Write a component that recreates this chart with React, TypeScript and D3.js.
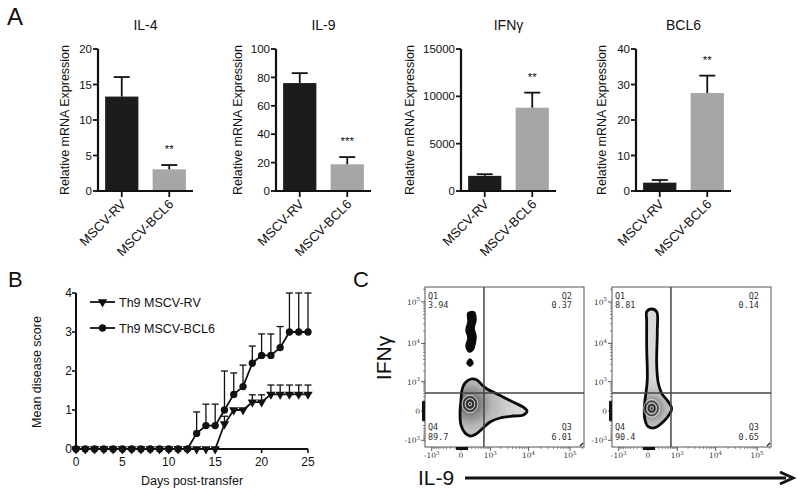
import React from "react";
import * as d3 from "d3";

// ---------------- Panel A data ----------------
const groups = ["MSCV-RV", "MSCV-BCL6"];
const genes = ["IL-4", "IL-9", "IFNγ", "BCL6"];
const il4Mean = [13.3, 3.05];
const il4Err = [16.05, 3.66];
const il9Mean = [76, 18.8];
const il9Err = [83, 23.9];
const ifngMean = [1600, 8800];
const ifngErr = [1775, 10390];
const bcl6Mean = [2.35, 27.6];
const bcl6Err = [3.1, 32.5];
const il4Ticks = [0, 5, 10, 15, 20];
const il9Ticks = [0, 20, 40, 60, 80, 100];
const ifngTicks = [0, 5000, 10000, 15000];
const bcl6Ticks = [0, 10, 20, 30, 40];
const stars = ["**", "***", "**", "**"];

// ---------------- Panel B data ----------------
const days = [0, 1, 2, 3, 4, 5, 6, 7, 8, 9, 10, 11, 12, 13, 14, 15, 16, 17, 18, 19, 20, 21, 22, 23, 24, 25];
const rvMean = [0, 0, 0, 0, 0, 0, 0, 0, 0, 0, 0, 0, 0, 0, 0, 0, 0.64, 1.0, 1.0, 1.2, 1.2, 1.4, 1.4, 1.4, 1.4, 1.4];
const rvUpper = [0, 0, 0, 0, 0, 0, 0, 0, 0, 0, 0, 0, 0, 0, 0, 0, 0.84, 1.0, 1.0, 1.39, 1.39, 1.64, 1.64, 1.64, 1.64, 1.64];
const bclMean = [0, 0, 0, 0, 0, 0, 0, 0, 0, 0, 0, 0, 0, 0.4, 0.6, 0.6, 1.0, 1.4, 1.6, 2.2, 2.4, 2.4, 2.6, 3.0, 3.0, 3.0];
const bclUpper = [0, 0, 0, 0, 0, 0, 0, 0, 0, 0, 0, 0, 0, 0.95, 1.15, 1.15, 2.0, 1.95, 2.15, 2.64, 2.95, 2.95, 3.14, 4.0, 4.0, 4.0];
const seriesNames = ["Th9 MSCV-RV", "Th9 MSCV-BCL6"];
const bYTicks = [0, 1, 2, 3, 4];
const bXTicks = [0, 5, 10, 15, 20, 25];

// ---------------- Panel C data ----------------
const flowMajor = [-1000, 0, 1000, 10000, 100000];
const flowMajorLabels = [["-10", "3"], ["0", ""], ["10", "3"], ["10", "4"], ["10", "5"]];
const quadNames = ["Q1", "Q2", "Q3", "Q4"];
const leftQuadValues = ["3.94", "0.37", "6.01", "89.7"];
const rightQuadValues = ["8.81", "0.14", "0.65", "90.4"];
const gateIL9 = 632;
const gateIFNg = 422;
// contour outlines (IL-9, IFNγ raw values)
const leftMainX = [62, 183, 352, 543, 793, 1370, 2555, 4610, 7290, 9150, 7470, 4100, 1880, 980, 543, 320, 160, 62, 0, -14, 0, 14];
const leftMainY = [914, 1200, 1120, 793, 587, 422, 261, 138, 62, 0, -62, -79, -117, -207, -422, -635, -738, -587, -290, -29, 207, 543];
const leftStreakX = [117, 261, 320, 261, 320, 290, 233, 138, 79, 117, 79, 117];
const leftStreakY = [54000, 57300, 36900, 23700, 15150, 9670, 6890, 6150, 8650, 13550, 21200, 33200];
const leftDotX = [98, 160, 233, 160];
const leftDotY = [3200, 4100, 3200, 2710];
const leftCore = [160, 117];
const rightMainX = [-19, 56, 153, 167, 153, 190, 281, 512, 669, 587, 330, 117, 4, -45, -56, -34, -10, -19, -19];
const rightMainY = [58300, 67600, 58300, 21200, 2940, 896, 411, 167, 40, -34, -200, -376, -343, -160, 67, 352, 1123, 8300, 36900];
const rightCore = [56, 40];

const FONT = "'Liberation Sans', Arial, Helvetica, sans-serif";

// ---------------- Panel A ----------------
const A_Y0 = 191;
const A_YTOP = 49;
const A_W = 95;
const barColors = ["#1c1c1c", "#a6a6a9"];

function BarPanel({ ax, title, means, errs, ticks, star, labOff }) {
  const y = d3.scaleLinear().domain([0, ticks[ticks.length - 1]]).range([A_Y0, A_YTOP]);
  const x = d3.scaleBand().domain(groups).range([ax, ax + A_W]).paddingInner(0.3).paddingOuter(0.15);
  const bw = x.bandwidth();
  return (
    <g>
      <text x={ax + 47.5} y={30} fontSize={14} textAnchor="middle">{title}</text>
      <text transform={`translate(${ax - labOff},120) rotate(-90)`} fontSize={12.5} textAnchor="middle">
        Relative mRNA Expression
      </text>
      {groups.map((g, i) => {
        const cx = x(g) + bw / 2;
        return (
          <g key={g}>
            <rect x={x(g)} y={y(means[i])} width={bw} height={y(0) - y(means[i])} fill={barColors[i]} />
            <line x1={cx} x2={cx} y1={y(means[i])} y2={y(errs[i])} stroke="#111" strokeWidth={1.8} />
            <line x1={cx - 8} x2={cx + 8} y1={y(errs[i])} y2={y(errs[i])} stroke="#111" strokeWidth={1.8} />
            <line x1={cx} x2={cx} y1={A_Y0} y2={A_Y0 + 6} stroke="#111" strokeWidth={1.8} />
            <text transform={`translate(${cx + 5},${A_Y0 + 14}) rotate(-45)`} fontSize={13} textAnchor="end">
              {g}
            </text>
          </g>
        );
      })}
      <text x={x(groups[1]) + bw / 2} y={y(errs[1]) - 12} fontSize={11.5} textAnchor="middle">{star}</text>
      {ticks.map((t) => (
        <g key={t}>
          <line x1={ax - 5} x2={ax} y1={y(t)} y2={y(t)} stroke="#111" strokeWidth={1.8} />
          <text x={ax - 6} y={y(t)} dy="0.36em" fontSize={11.5} textAnchor="end">{t}</text>
        </g>
      ))}
      <line x1={ax} x2={ax} y1={A_Y0 + 1} y2={A_YTOP} stroke="#111" strokeWidth={2.2} />
      <line x1={ax - 1} x2={ax + A_W} y1={A_Y0} y2={A_Y0} stroke="#111" strokeWidth={2.2} />
    </g>
  );
}

// ---------------- Panel B ----------------
function DiseasePanel() {
  const x = d3.scaleLinear().domain([0, 25]).range([76, 308]);
  const y = d3.scaleLinear().domain([0, 4]).range([449, 293]);
  const line = d3.line<number>().x((_, i) => x(days[i])).y((d) => y(d));
  const tri = d3.symbol(d3.symbolTriangle, 38)();
  const circ = d3.symbol(d3.symbolCircle, 42)();
  const errs = (mean, upper, key) =>
    days.map((d, i) =>
      upper[i] > mean[i] + 0.001 ? (
        <g key={key + d}>
          <line x1={x(d)} x2={x(d)} y1={y(mean[i])} y2={y(upper[i])} stroke="#111" strokeWidth={1.3} />
          <line x1={x(d) - 3.5} x2={x(d) + 3.5} y1={y(upper[i])} y2={y(upper[i])} stroke="#111" strokeWidth={1.3} />
        </g>
      ) : null
    );
  return (
    <g>
      <text transform="translate(41,372) rotate(-90)" fontSize={12.5} textAnchor="middle">Mean disease score</text>
      <text x={192} y={485} fontSize={12.5} textAnchor="middle">Days post-transfer</text>
      {bYTicks.map((t) => (
        <g key={"y" + t}>
          <line x1={72} x2={76} y1={y(t)} y2={y(t)} stroke="#111" strokeWidth={1.6} />
          <text x={72} y={y(t)} dy="0.36em" fontSize={12} textAnchor="end">{t}</text>
        </g>
      ))}
      {bXTicks.map((t) => (
        <g key={"x" + t}>
          <line x1={x(t)} x2={x(t)} y1={449} y2={453} stroke="#111" strokeWidth={1.6} />
          <text x={x(t)} y={466} fontSize={12} textAnchor="middle">{t}</text>
        </g>
      ))}
      <line x1={76} x2={76} y1={450} y2={293} stroke="#111" strokeWidth={2} />
      <line x1={75} x2={308} y1={449} y2={449} stroke="#111" strokeWidth={2} />
      {errs(bclMean, bclUpper, "b")}
      {errs(rvMean, rvUpper, "r")}
      <path d={line(bclMean)} fill="none" stroke="#111" strokeWidth={1.8} />
      {days.map((d, i) => (
        <path key={"c" + d} d={circ} transform={`translate(${x(d)},${y(bclMean[i])})`} fill="#111" />
      ))}
      <path d={line(rvMean)} fill="none" stroke="#111" strokeWidth={1.8} />
      {days.map((d, i) => (
        <path key={"t" + d} d={tri} transform={`translate(${x(d)},${y(rvMean[i])}) rotate(180)`} fill="#111" />
      ))}
      {/* legend */}
      <line x1={90} x2={115} y1={302} y2={302} stroke="#111" strokeWidth={1.8} />
      <path d={tri} transform="translate(102.5,302) rotate(180)" fill="#111" />
      <text x={119} y={302} dy="0.36em" fontSize={12.5}>{seriesNames[0]}</text>
      <line x1={90} x2={115} y1={328} y2={328} stroke="#111" strokeWidth={1.8} />
      <path d={circ} transform="translate(102.5,328)" fill="#111" />
      <text x={119} y={328} dy="0.36em" fontSize={12.5}>{seriesNames[1]}</text>
    </g>
  );
}

// ---------------- Panel C ----------------
const F_TOP = 287;
const F_BOT = 447;
const F_W = 159;
const minorTicks = [
  ...d3.range(-900, 0, 100),
  ...d3.range(100, 1000, 100),
  ...d3.range(2000, 10000, 1000),
  ...d3.range(20000, 100000, 10000),
  200000,
];

function FlowPlot({ x0, id, mainX, mainY, core, quadValues, extra }) {
  const fx = d3.scaleSymlog().constant(250).domain([-1557, 215000]).range([x0, x0 + F_W]);
  const fy = d3.scaleSymlog().constant(250).domain([-1557, 227000]).range([F_BOT, F_TOP]);
  const closed = d3.line<number[]>().x((p) => fx(p[0])).y((p) => fy(p[1])).curve(d3.curveCatmullRomClosed.alpha(0.5));
  const pts = (xs, ys) => xs.map((v, i) => [v, ys[i]]);
  const cx = fx(core[0]);
  const cy = fy(core[1]);
  const gx = fx(gateIL9);
  const gy = fy(gateIFNg);
  const rings = [1, 2, 3, 4, 5];
  return (
    <g>
      <defs>
        <radialGradient id={id} gradientUnits="userSpaceOnUse" cx={cx} cy={cy} r={id === "gL" ? 48 : 30}>
          <stop offset="0" stopColor="#2a2a2a" />
          <stop offset="0.1" stopColor="#4f4f4f" />
          <stop offset="0.25" stopColor="#8c8c8c" />
          <stop offset="0.45" stopColor="#b5b5b5" />
          <stop offset="0.75" stopColor="#cdcdcd" />
          <stop offset="1" stopColor="#d9d9d9" />
        </radialGradient>
      </defs>
      <rect x={x0} y={F_TOP} width={F_W} height={F_BOT - F_TOP} fill="#fff" stroke="#555" strokeWidth={1} />
      {/* contours */}
      <path d={closed(pts(mainX, mainY))} fill={`url(#${id})`} stroke="#0a0a0a" strokeWidth={2.8} strokeLinejoin="round" />
      {extra &&
        extra.map((e, k) => (
          <path key={k} d={closed(pts(e[0], e[1]))} fill="#0a0a0a" stroke="#0a0a0a" strokeWidth={1.5} />
        ))}
      {rings.map((r) => (
        <ellipse key={r} cx={cx} cy={cy} rx={r * 1.6} ry={r * 1.8} fill="none" stroke={r % 2 ? "#e6e6e6" : "#1a1a1a"} strokeWidth={0.8} />
      ))}
      {/* quadrant gate */}
      <line x1={gx} x2={gx} y1={F_TOP} y2={F_BOT} stroke="#444" strokeWidth={1.5} />
      <line x1={x0} x2={x0 + F_W} y1={gy} y2={gy} stroke="#444" strokeWidth={1.5} />
      {/* axis ticks */}
      {minorTicks.map((t) => (
        <g key={"m" + t}>
          <line x1={fx(t)} x2={fx(t)} y1={F_BOT} y2={F_BOT + 2} stroke="#555" strokeWidth={0.7} />
          <line x1={x0} x2={x0 - 2} y1={fy(t)} y2={fy(t)} stroke="#555" strokeWidth={0.7} />
        </g>
      ))}
      {flowMajor.map((t, i) => (
        <g key={"M" + t} fontFamily="'DejaVu Serif', serif" fill="#333">
          <line x1={fx(t)} x2={fx(t)} y1={F_BOT} y2={F_BOT + 4} stroke="#444" strokeWidth={0.9} />
          <line x1={x0} x2={x0 - 4} y1={fy(t)} y2={fy(t)} stroke="#444" strokeWidth={0.9} />
          <text x={fx(t)} y={458} fontSize={7.5} textAnchor="middle">
            <tspan>{flowMajorLabels[i][0]}</tspan>
            <tspan dy={-3.5} fontSize={5.5}>{flowMajorLabels[i][1]}</tspan>
          </text>
          <text x={x0 - 5} y={fy(t) + 3} fontSize={7.5} textAnchor="end">
            <tspan>{flowMajorLabels[i][0]}</tspan>
            <tspan dy={-3.5} fontSize={5.5}>{flowMajorLabels[i][1]}</tspan>
          </text>
        </g>
      ))}
      {/* events piled on axes */}
      <rect x={x0 - 3} y={fy(180)} width={3} height={fy(-180) - fy(180)} fill="#111" />
      <rect x={fx(-80)} y={F_BOT} width={fx(120) - fx(-80)} height={3} fill="#111" />
      <path d={`M${x0 + F_W - 4},${F_BOT - 1}L${x0 + F_W - 1},${F_BOT - 4}`} stroke="#222" strokeWidth={1.2} />
      {/* quadrant labels */}
      <g fontFamily="'DejaVu Sans Mono', 'Liberation Mono', monospace" fontSize={8.5} fill="#333">
        <text x={x0 + 3} y={299}>{quadNames[0]}</text>
        <text x={x0 + 3} y={308}>{quadValues[0]}</text>
        <text x={x0 + F_W - 12} y={299} textAnchor="end">{quadNames[1]}</text>
        <text x={x0 + F_W - 12} y={308} textAnchor="end">{quadValues[1]}</text>
        <text x={x0 + F_W - 12} y={430} textAnchor="end">{quadNames[2]}</text>
        <text x={x0 + F_W - 12} y={440} textAnchor="end">{quadValues[2]}</text>
        <text x={x0 + 3} y={430}>{quadNames[3]}</text>
        <text x={x0 + 3} y={440}>{quadValues[3]}</text>
      </g>
    </g>
  );
}

function FlowPanel() {
  return (
    <g>
      <text transform="translate(391,358) rotate(-90)" fontSize={21} textAnchor="middle">IFNγ</text>
      <FlowPlot
        x0={425}
        id="gL"
        mainX={leftMainX}
        mainY={leftMainY}
        core={leftCore}
        quadValues={leftQuadValues}
        extra={[[leftStreakX, leftStreakY], [leftDotX, leftDotY]]}
      />
      <FlowPlot x0={612} id="gR" mainX={rightMainX} mainY={rightMainY} core={rightCore} quadValues={rightQuadValues} extra={null} />
      <text x={418} y={485} fontSize={21}>IL-9</text>
      <line x1={465} x2={786} y1={478} y2={478} stroke="#111" strokeWidth={3} />
      <path d="M780,472 L793,478 L780,484" fill="none" stroke="#111" strokeWidth={3} strokeLinejoin="miter" />
    </g>
  );
}

export default function App() {
  const panels = [
    { ax: 98, means: il4Mean, errs: il4Err, ticks: il4Ticks, labOff: 29 },
    { ax: 276, means: il9Mean, errs: il9Err, ticks: il9Ticks, labOff: 34 },
    { ax: 461, means: ifngMean, errs: ifngErr, ticks: ifngTicks, labOff: 47 },
    { ax: 636, means: bcl6Mean, errs: bcl6Err, ticks: bcl6Ticks, labOff: 30 },
  ];
  return (
    <svg
      width={800}
      height={495}
      style={{ position: "absolute", left: 0, top: 0, display: "block" }}
      fontFamily={FONT}
      fill="#111"
    >
      <rect width={800} height={495} fill="#fff" />
      <text x={7} y={25} fontSize={24}>A</text>
      {panels.map((p, i) => (
        <BarPanel key={genes[i]} {...p} title={genes[i]} star={stars[i]} />
      ))}
      <text x={8} y={287} fontSize={22}>B</text>
      <DiseasePanel />
      <text x={353} y={287} fontSize={22}>C</text>
      <FlowPanel />
    </svg>
  );
}
